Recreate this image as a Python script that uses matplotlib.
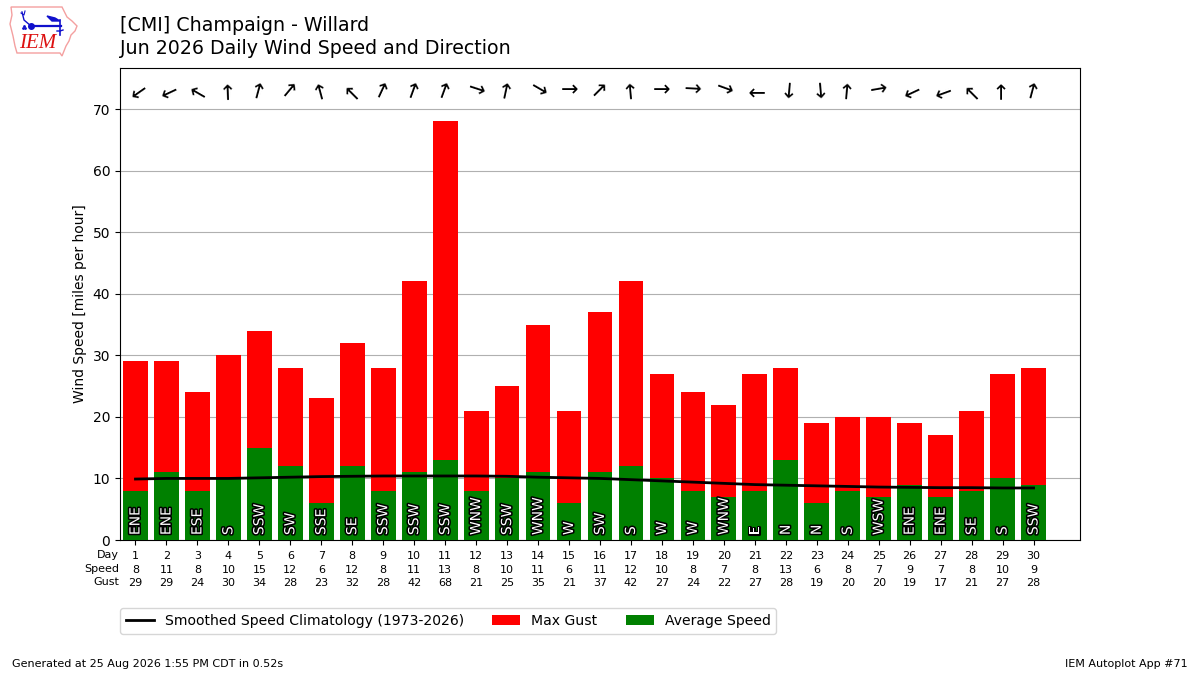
import matplotlib
matplotlib.use("Agg")
import matplotlib.pyplot as plt
import matplotlib.patheffects as pe
from matplotlib.patches import Polygon

days = list(range(1, 31))
avg_speed = [8, 11, 8, 10, 15, 12, 6, 12, 8, 11, 13, 8, 10, 11, 6, 11, 12, 10, 8, 7, 8, 13, 6, 8, 7, 9, 7, 8, 10, 9]
max_gust = [29, 29, 24, 30, 34, 28, 23, 32, 28, 42, 68, 21, 25, 35, 21, 37, 42, 27, 24, 22, 27, 28, 19, 20, 20, 19, 17, 21, 27, 28]
dir_text = ["ENE", "ENE", "ESE", "S", "SSW", "SW", "SSE", "SE", "SSW", "SSW", "SSW", "WNW", "SSW", "WNW", "W",
            "SW", "S", "W", "W", "WNW", "E", "N", "N", "S", "WSW", "ENE", "ENE", "SE", "S", "SSW"]
drct_deg = [55, 65, 120, 178, 195, 220, 165, 135, 205, 200, 200, 288, 192, 300, 270,
            225, 175, 270, 273, 290, 90, 5, 355, 185, 260, 65, 70, 135, 180, 195]
clim_speed = [9.9, 10.0, 10.0, 10.0, 10.1, 10.2, 10.3, 10.35, 10.4, 10.4, 10.4, 10.4, 10.35, 10.2, 10.1,
              10.0, 9.8, 9.6, 9.4, 9.2, 9.0, 8.9, 8.8, 8.7, 8.6, 8.55, 8.5, 8.5, 8.45, 8.45]

fig = plt.figure(figsize=(12, 6.75), dpi=100)
ax = fig.add_axes([0.1, 0.2, 0.8, 0.699])

ax.bar(days, max_gust, width=0.8, color="r", label="Max Gust", zorder=2)
ax.bar(days, avg_speed, width=0.8, color="g", label="Average Speed", zorder=3)
ax.plot(days, clim_speed, color="k", lw=2, label="Smoothed Speed Climatology (1973-2026)", zorder=4)

ymax = max(max_gust)
ax.set_ylim(0, ymax * 1.127)
ax.set_xlim(0.5, 31.5)
ax.set_yticks(range(0, 71, 10))
ax.grid(axis="y", color="#b0b0b0", lw=0.8, zorder=0)
ax.set_axisbelow(True)
ax.set_ylabel("Wind Speed [miles per hour]", fontsize=10)

for d, txt in zip(days, dir_text):
    ax.text(d, 0.8, txt, rotation=90, ha="center", va="bottom", color="white", fontsize=10, zorder=5,
            path_effects=[pe.withStroke(linewidth=2.2, foreground="black")])

for d, drct in zip(days, drct_deg):
    ax.text(d, ymax * 1.075, "\u2192", rotation=(270 - drct) % 360, rotation_mode="anchor",
            ha="center", va="center", fontsize=15, zorder=5)

ax.set_xticks(days)
ax.set_xticklabels([f"{d}\n{s}\n{g}" for d, s, g in zip(days, avg_speed, max_gust)], fontsize=8,
                   linespacing=1.45)
ax.tick_params(axis="x", pad=4.5)
ax.text(-0.001, -0.0215, "Day\nSpeed\nGust", transform=ax.transAxes, ha="right", va="top", fontsize=8,
        linespacing=1.45)

ax.legend(loc="upper left", bbox_to_anchor=(0.0, -0.145), ncol=3, fontsize=10.1, borderaxespad=0)

fig.text(0.1, 0.977, "[CMI] Champaign - Willard\nJun 2026 Daily Wind Speed and Direction",
         ha="left", va="top", fontsize=13.7, linespacing=1.3)
fig.text(0.01, 0.016, "Generated at 25 Aug 2026 1:55 PM CDT in 0.52s", ha="left", va="center", fontsize=8)
fig.text(0.99, 0.016, "IEM Autoplot App #71", ha="right", va="center", fontsize=8)

# logo (pixel coordinates within the top-left 90x65 px region)
lax = fig.add_axes([0, 1 - 65 / 675, 90 / 1200, 65 / 675])
lax.set_xlim(0, 90)
lax.set_ylim(65, 0)
lax.axis("off")
iowa = [(11, 7), (62, 7), (64, 11), (67, 17), (72, 21), (77, 26), (75, 31), (71, 35), (69, 41),
        (66, 46), (64, 51), (62, 56), (60, 53), (17, 53), (15, 46), (13, 36), (10, 24), (12, 15)]
lax.add_patch(Polygon(iowa, closed=True, fill=False, edgecolor="#f4a0a0", lw=1))
blue = "#1010cc"
lax.plot([31, 61], [26, 26], color=blue, lw=1.6)
lax.plot([31], [26], "o", color=blue, ms=4)
lax.plot([31, 24, 22], [26, 20, 12], color=blue, lw=1)
lax.plot([21, 24, 25], [13, 15, 11], color=blue, lw=0.8)
lax.add_patch(Polygon([(47, 16), (55, 18), (60, 21), (52, 21)], closed=True, color=blue))
lax.plot([60, 60], [20, 35], color=blue, lw=1.2)
lax.plot([57, 60, 63], [31, 31, 30], color=blue, lw=1)
lax.plot([23, 25, 24], [28, 28, 26], ".", color=blue, ms=2)
lax.text(38, 43, "IEM", color="#dd1111", fontsize=15, family="Liberation Serif", style="italic",
         ha="center", va="center")

fig.savefig("out.png", dpi=100)
